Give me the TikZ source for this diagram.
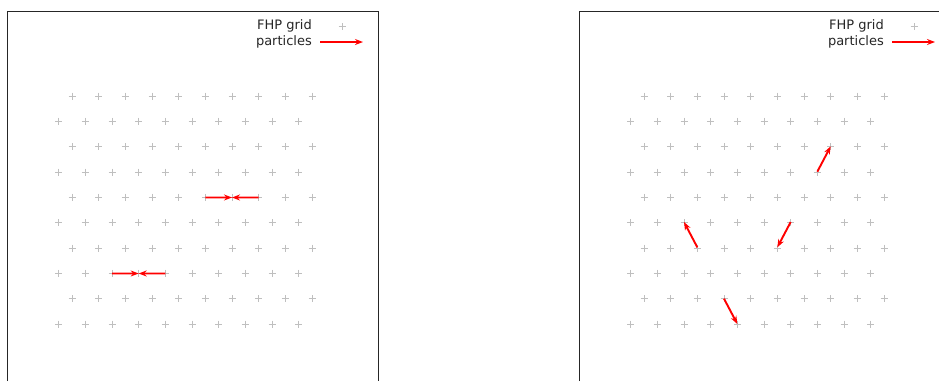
\documentclass[tikz,border=0pt]{standalone}
\usepackage{fontspec}
\setmainfont{DejaVu Sans}
\usetikzlibrary{arrows.meta}
\begin{document}
\begin{tikzpicture}[x=1bp,y=-1bp,
  gridpt/.style={draw=black!25, line width=0.7bp},
  particle/.style={color=red, draw=red, line width=1.9bp, -{Stealth[length=8bp,width=6bp,fill=red]}},
  frameline/.style={draw=black!85, line width=1bp},
  legendtext/.style={font=\fontsize{13bp}{15bp}\selectfont, text=black!85, anchor=east, inner sep=0pt}]
\useasboundingbox[fill=white] (0,0) rectangle (939,381);
\tikzset{gplus/.pic={\draw[gridpt] (-3.5,0)--(3.5,0) (0,-3.5)--(0,3.5);}}
% frames
\draw[frameline] (7,381) -- (7,11.3) -- (378,11.3) -- (378,381);
\draw[frameline] (579.3,381) -- (579.3,11.3) -- (939,11.3);
% grids
\foreach \ox in {0,572}{
  \foreach \r in {0,...,9}{
    \foreach \c in {0,...,9}{
      \pgfmathsetmacro\xx{\ox+72-13.333*mod(\r,2)+26.667*\c}
      \pgfmathsetmacro\yy{96+25.333*\r}
      \pic at (\xx,\yy) {gplus};
    }
  }
  % legend
  \node[legendtext] (lg\ox) at (\ox+312,26) {FHP grid};
  \node[legendtext] (lp\ox) at (\ox+312,42) {particles};
  \pic at (\ox+342,26.5) {gplus};
  \coordinate (la\ox) at (\ox+320,42);
  \coordinate (lb\ox) at (\ox+363,42);
  \draw[particle] (la\ox) -- (lb\ox);
}
% left panel particles
\coordinate (pa1) at (205.33,197.45);
\coordinate (pa2) at (232,197.5);
\coordinate (pa3) at (258.67,197.45);
\coordinate (pb1) at (112,273.45);
\coordinate (pb2) at (138.67,273.5);
\coordinate (pb3) at (165.33,273.45);
\draw[particle] (pa1) -- (pa2);
\draw[particle] (pa3) -- (pa2);
\draw[particle] (pb1) -- (pb2);
\draw[particle] (pb3) -- (pb2);
% right panel particles
\coordinate (pc1) at (697.33,247.33);
\coordinate (pc2) at (684,222);
\coordinate (pd1) at (790.67,222);
\coordinate (pd2) at (777.33,247.33);
\coordinate (pe1) at (724,298.67);
\coordinate (pe2) at (737.33,324);
\coordinate (pf1) at (817.33,171.67);
\coordinate (pf2) at (830.67,146.33);
\draw[particle] (pc1) -- (pc2);
\draw[particle] (pd1) -- (pd2);
\draw[particle] (pe1) -- (pe2);
\draw[particle] (pf1) -- (pf2);
\end{tikzpicture}
\end{document}
